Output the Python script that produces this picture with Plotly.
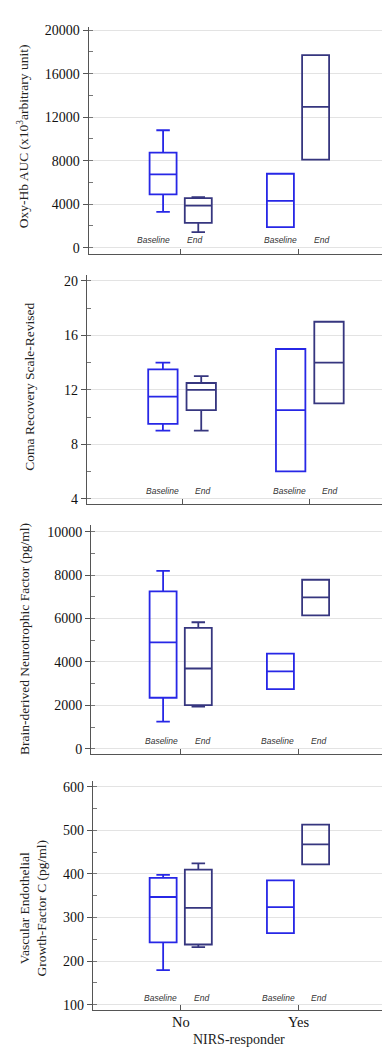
import plotly.graph_objects as go
from plotly.subplots import make_subplots

W, H = 390, 1047

groups = ["No", "Yes"]
phases = ["Baseline", "End"]

# Panel 1: Oxy-Hb AUC
oxy_base_lo = [3300, 1900]
oxy_base_q1 = [4900, 1900]
oxy_base_med = [6750, 4300]
oxy_base_q3 = [8750, 6800]
oxy_base_hi = [10800, 6800]
oxy_end_lo = [1430, 8100]
oxy_end_q1 = [2280, 8100]
oxy_end_med = [3870, 12950]
oxy_end_q3 = [4550, 17700]
oxy_end_hi = [4650, 17700]

# Panel 2: Coma Recovery Scale-Revised
crs_base_lo = [9, 6]
crs_base_q1 = [9.5, 6]
crs_base_med = [11.5, 10.5]
crs_base_q3 = [13.5, 15]
crs_base_hi = [14, 15]
crs_end_lo = [9, 11]
crs_end_q1 = [10.5, 11]
crs_end_med = [12, 14]
crs_end_q3 = [12.5, 17]
crs_end_hi = [13, 17]

# Panel 3: BDNF
bdnf_base_lo = [1250, 2750]
bdnf_base_q1 = [2350, 2750]
bdnf_base_med = [4900, 3570]
bdnf_base_q3 = [7250, 4380]
bdnf_base_hi = [8200, 4380]
bdnf_end_lo = [1940, 6150]
bdnf_end_q1 = [2010, 6150]
bdnf_end_med = [3700, 6980]
bdnf_end_q3 = [5570, 7790]
bdnf_end_hi = [5830, 7790]

# Panel 4: VEGF-C
vegf_base_lo = [179, 264]
vegf_base_q1 = [243, 264]
vegf_base_med = [347, 324]
vegf_base_q3 = [391, 385]
vegf_base_hi = [398, 385]
vegf_end_lo = [232, 422]
vegf_end_q1 = [238, 422]
vegf_end_med = [322, 468]
vegf_end_q3 = [410, 513]
vegf_end_hi = [424, 513]

y_titles = [
    "Oxy-Hb AUC (x10<sup>3</sup>arbitrary unit)",
    "Coma Recovery Scale-Revised",
    "Brain-derived Neurotrophic Factor (pg/ml)",
    "Vascular Endothelial<br>Growth-Factor C (pg/ml)",
]
x_title = "NIRS-responder"

panels = [
    ((oxy_base_lo, oxy_base_q1, oxy_base_med, oxy_base_q3, oxy_base_hi),
     (oxy_end_lo, oxy_end_q1, oxy_end_med, oxy_end_q3, oxy_end_hi)),
    ((crs_base_lo, crs_base_q1, crs_base_med, crs_base_q3, crs_base_hi),
     (crs_end_lo, crs_end_q1, crs_end_med, crs_end_q3, crs_end_hi)),
    ((bdnf_base_lo, bdnf_base_q1, bdnf_base_med, bdnf_base_q3, bdnf_base_hi),
     (bdnf_end_lo, bdnf_end_q1, bdnf_end_med, bdnf_end_q3, bdnf_end_hi)),
    ((vegf_base_lo, vegf_base_q1, vegf_base_med, vegf_base_q3, vegf_base_hi),
     (vegf_end_lo, vegf_end_q1, vegf_end_med, vegf_end_q3, vegf_end_hi)),
]

# layout geometry (pixels)
x_dom_px = [(80.7, 378), (79, 390), (83.3, 380), (85, 378)]
y_dom_px = [(15, 244), (265, 495.7), (516.7, 746.7), (774, 1005)]
x_ranges = [[-0.784, 1.75], [-0.744, 1.69], [-0.762, 1.767], [-0.748, 1.75]]
y_ranges = [[-612, 20300], [3.58, 20.42], [-229, 10302], [87, 613.7]]
y_ticks = [
    (list(range(0, 20001, 4000)), 2000),
    (list(range(4, 21, 4)), 2),
    (list(range(0, 10001, 2000)), 1000),
    (list(range(100, 601, 100)), 50),
]
title_pos = [(15, 125), (21.7, 377.5), (16.7, 631.5), (25.5, 903)]
label_px = [
    ([145, 186, 272, 313.5], 230),
    ([154, 194.5, 281, 321.7], 482.7),
    ([153, 194, 269, 310], 734.3),
    ([152, 193.5, 270, 310], 992.3),
]

colors = {"Baseline": "#2727e6", "End": "#36367f"}
SERIF = "Liberation Serif, Times New Roman, serif"

fig = make_subplots(rows=4, cols=1)

for i, (base, end) in enumerate(panels):
    r = i + 1
    for name, stats in zip(phases, (base, end)):
        lo, q1, med, q3, hi = stats
        fig.add_trace(go.Box(
            x=groups, q1=q1, median=med, q3=q3, lowerfence=lo, upperfence=hi,
            name=name, offsetgroup=name, showlegend=False,
            line=dict(color=colors[name], width=1.8),
            fillcolor="rgba(255,255,255,0)", whiskerwidth=0.5,
            boxpoints=False, hoverinfo="skip",
        ), row=r, col=1)

annotations = []
for i in range(4):
    xs = "" if i == 0 else str(i + 1)
    x0, x1 = x_dom_px[i]
    t, b = y_dom_px[i]
    tv, minor_d = y_ticks[i]
    fig.layout["xaxis" + xs].update(
        domain=[x0 / W, x1 / W], range=x_ranges[i], type="category",
        showline=True, linecolor="#555", linewidth=1.3,
        ticks="inside", ticklen=5, tickcolor="#555", tickwidth=1.3,
        showgrid=False, zeroline=False, showticklabels=False,
    )
    fig.layout["yaxis" + xs].update(
        domain=[1 - b / H, 1 - t / H], range=y_ranges[i],
        tickvals=tv, ticktext=[str(v) for v in tv],
        showline=True, linecolor="#555", linewidth=1.3,
        ticks="outside", ticklen=5, tickcolor="#555", tickwidth=1.2,
        showgrid=True, gridcolor="#e3e3e3", gridwidth=1, zeroline=False,
        minor=dict(dtick=minor_d, tick0=0, ticks="inside", ticklen=4,
                   tickcolor="#777", showgrid=False),
        tickfont=dict(family=SERIF, size=14, color="#111"),
    )
    tx, ty = title_pos[i]
    annotations.append(dict(
        text=y_titles[i], x=tx / W, y=1 - ty / H, xref="paper", yref="paper",
        textangle=-90, showarrow=False, xanchor="center", yanchor="middle",
        font=dict(family=SERIF, size=13.5, color="#222"),
    ))
    lxs, ly = label_px[i]
    for j, lx in enumerate(lxs):
        annotations.append(dict(
            text="<i>" + phases[j % 2] + "</i>", x=lx / W, y=1 - ly / H,
            xref="paper", yref="paper", showarrow=False,
            xanchor="center", yanchor="middle",
            font=dict(family="Liberation Sans, Arial, sans-serif", size=8.5, color="#333"),
        ))

# category labels of the bottom panel
for g in groups:
    annotations.append(dict(
        text=g, x=g, xref="x4", y=1 - 1016.5 / H, yref="paper",
        showarrow=False, xanchor="center", yanchor="middle",
        font=dict(family=SERIF, size=14.5, color="#111"),
    ))

annotations.append(dict(
    text=x_title, x=231 / W, y=1 - 1034 / H, xref="paper", yref="paper",
    showarrow=False, xanchor="center", yanchor="middle",
    font=dict(family=SERIF, size=14, color="#222"),
))

fig.update_layout(
    width=W, height=H, margin=dict(l=0, r=0, t=0, b=0),
    paper_bgcolor="white", plot_bgcolor="white",
    boxmode="group", boxgap=0.4, boxgroupgap=0.233,
    annotations=annotations, showlegend=False,
)

fig.write_html("out.html")
